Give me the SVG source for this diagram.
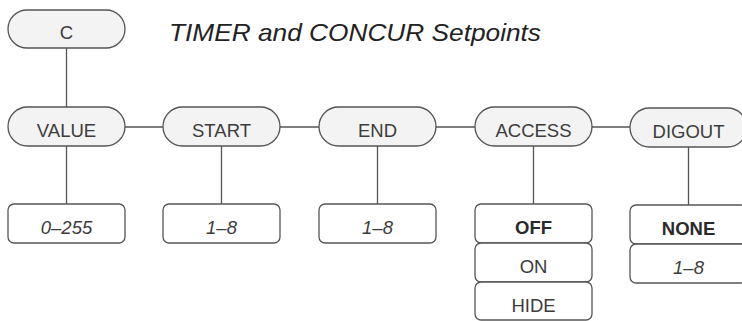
<svg xmlns="http://www.w3.org/2000/svg" width="742" height="321" viewBox="0 0 742 321">
  <style>
    .pill { fill: #f3f3f3; stroke: #555; stroke-width: 1.3; }
    .box { fill: #fff; stroke: #555; stroke-width: 1.3; }
    .lbl { font-family: "Liberation Sans", Arial, sans-serif; font-size: 18.5px; fill: #3c3c3c; text-anchor: middle; }
    .rng { font-style: italic; }
    .sel { font-weight: bold; fill: #2a2a2a; }
    .title { font-family: "Liberation Sans", Arial, sans-serif; font-size: 24px; font-style: italic; fill: #222; }
    .wire { stroke: #555; stroke-width: 1.3; fill: none; }
  </style>

  <text class="title" x="169" y="41" textLength="372" lengthAdjust="spacingAndGlyphs">TIMER and CONCUR Setpoints</text>

  <!-- connectors -->
  <g id="connectors">
    <line class="wire" x1="66.5" y1="48" x2="66.5" y2="107"/>
    <line class="wire" x1="125" y1="127" x2="163" y2="127"/>
    <line class="wire" x1="280" y1="127" x2="319" y2="127"/>
    <line class="wire" x1="436" y1="127" x2="475" y2="127"/>
    <line class="wire" x1="592" y1="127" x2="630" y2="127"/>
    <line class="wire" x1="66.5" y1="146" x2="66.5" y2="204"/>
    <line class="wire" x1="221.5" y1="146" x2="221.5" y2="204"/>
    <line class="wire" x1="377.5" y1="146" x2="377.5" y2="204"/>
    <line class="wire" x1="533.5" y1="146" x2="533.5" y2="204"/>
    <line class="wire" x1="688.5" y1="147" x2="688.5" y2="205"/>
  </g>

  <!-- menu root -->
  <g id="node-c">
    <rect class="pill" x="8" y="10" width="117" height="38" rx="19"/>
    <text class="lbl" x="66.5" y="39">C</text>
  </g>

  <!-- parameter row -->
  <g id="node-value">
    <rect class="pill" x="8" y="107" width="117" height="39" rx="19.5"/>
    <text class="lbl" x="66.5" y="137">VALUE</text>
  </g>
  <g id="node-start">
    <rect class="pill" x="163" y="107" width="117" height="39" rx="19.5"/>
    <text class="lbl" x="221.5" y="137">START</text>
  </g>
  <g id="node-end">
    <rect class="pill" x="319" y="107" width="117" height="39" rx="19.5"/>
    <text class="lbl" x="377.5" y="137">END</text>
  </g>
  <g id="node-access">
    <rect class="pill" x="475" y="107" width="117" height="39" rx="19.5"/>
    <text class="lbl" x="533.5" y="137">ACCESS</text>
  </g>
  <g id="node-digout">
    <rect class="pill" x="630" y="108" width="117" height="39" rx="19.5"/>
    <text class="lbl" x="688.5" y="138">DIGOUT</text>
  </g>

  <!-- value choices -->
  <g id="opt-value">
    <rect class="box" x="8" y="204" width="117" height="39" rx="6"/>
    <text class="lbl rng" x="66.5" y="234">0–255</text>
  </g>
  <g id="opt-start">
    <rect class="box" x="163" y="204" width="117" height="39" rx="6"/>
    <text class="lbl rng" x="221.5" y="234">1–8</text>
  </g>
  <g id="opt-end">
    <rect class="box" x="319" y="204" width="117" height="39" rx="6"/>
    <text class="lbl rng" x="377.5" y="234">1–8</text>
  </g>
  <g id="opt-access">
    <rect class="box" x="475" y="204" width="117" height="39" rx="6"/>
    <text class="lbl sel" x="533.5" y="234">OFF</text>
    <rect class="box" x="475" y="243" width="117" height="39" rx="6"/>
    <text class="lbl" x="533.5" y="273">ON</text>
    <rect class="box" x="475" y="282" width="117" height="38" rx="6"/>
    <text class="lbl" x="533.5" y="312">HIDE</text>
  </g>
  <g id="opt-digout">
    <rect class="box" x="630" y="205" width="117" height="39" rx="6"/>
    <text class="lbl sel" x="688.5" y="235">NONE</text>
    <rect class="box" x="630" y="244" width="117" height="39" rx="6"/>
    <text class="lbl rng" x="688.5" y="274">1–8</text>
  </g>
</svg>
